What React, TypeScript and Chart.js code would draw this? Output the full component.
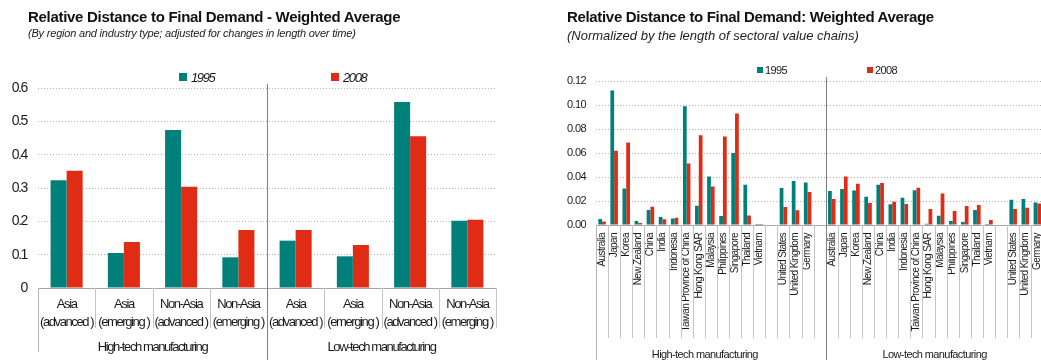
import React, { useEffect, useRef } from 'react';
import { Chart, registerables } from 'chart.js';

Chart.register(...registerables);

// ---------- shared ----------
const SERIES = ['1995', '2008'];
const COLOR_1995 = '#00807A';
const COLOR_2008 = '#E02B15';
const FONT = '"Liberation Sans", Arial, sans-serif';

// ---------- left chart data ----------
const leftTitle = 'Relative Distance to Final Demand - Weighted Average';
const leftSubtitle = '(By region and industry type; adjusted for changes in length over time)';
const leftCategories = [
  ['Asia', '(advanced )'],
  ['Asia', '(emerging )'],
  ['Non-Asia', '(advanced )'],
  ['Non-Asia', '(emerging )'],
  ['Asia', '(advanced )'],
  ['Asia', '(emerging )'],
  ['Non-Asia', '(advanced )'],
  ['Non-Asia', '(emerging )'],
];
const leftGroups = ['High-tech manufacturing', 'Low-tech manufacturing'];
const left1995 = [0.323, 0.105, 0.474, 0.092, 0.142, 0.095, 0.558, 0.202];
const left2008 = [0.352, 0.138, 0.304, 0.174, 0.174, 0.129, 0.455, 0.205];
const leftYTickLabels = ['0', '0.1', '0.2', '0.3', '0.4', '0.5', '0.6'];

// ---------- right chart data ----------
const rightTitle = 'Relative Distance to Final Demand: Weighted Average';
const rightSubtitle = '(Normalized by the length of sectoral value chains)';
const countries = [
  'Australia', 'Japan', 'Korea', 'New Zealand', 'China', 'India', 'Indonesia',
  'Taiwan Province of China', 'Hong Kong SAR', 'Malaysia', 'Philippines', 'Singapore',
  'Thailand', 'Vietnam', '', 'United States', 'United Kingdom', 'Germany', '',
];
const rightGroups = ['High-tech manufacturing', 'Low-tech manufacturing'];
const highTech1995 = [0.005, 0.112, 0.0305, 0.0033, 0.0125, 0.0067, 0.0055, 0.099, 0.016, 0.0405, 0.0075, 0.06, 0.0335, 0.0008, null, 0.0308, 0.0366, 0.0355, null];
const highTech2008 = [0.003, 0.0618, 0.0687, 0.0017, 0.0152, 0.0047, 0.006, 0.0513, 0.0748, 0.032, 0.0737, 0.093, 0.008, 0.0008, null, 0.015, 0.0122, 0.0274, null];
const lowTech1995 = [0.0283, 0.03, 0.0288, 0.0236, 0.0335, 0.0172, 0.0227, 0.029, 0.0011, 0.0078, 0.0033, 0.0025, 0.0125, 0.0008, null, 0.021, 0.0216, 0.0188, null];
const lowTech2008 = [0.0216, 0.0405, 0.0344, 0.0183, 0.0349, 0.0194, 0.0175, 0.031, 0.0133, 0.0263, 0.0116, 0.0158, 0.0166, 0.0042, null, 0.0133, 0.0144, 0.018, null];
const rightYTickLabels = ['0.00', '0.02', '0.04', '0.06', '0.08', '0.10', '0.12'];

type FrameOpts = {
  spacing: string;
  groupSize: number;
  groups: string[];
  groupFont: string;
  groupY: number;
  groupLastIndex: number;
  dividerTop: number;
  outerBottom: number;
  tickBottom: number;
};

function framePlugin(p: FrameOpts) {
  return {
    id: 'frame',
    beforeUpdate(chart: any) {
      chart.ctx.letterSpacing = p.spacing;
    },
    beforeDraw(chart: any) {
      chart.ctx.letterSpacing = p.spacing;
    },
    afterDraw(chart: any) {
      const ctx = chart.ctx as CanvasRenderingContext2D;
      const xs = chart.scales.x;
      const n = chart.data.labels.length;
      const step = xs.getPixelForValue(1) - xs.getPixelForValue(0);
      const axisY = Math.round(xs.top);
      ctx.save();
      (ctx as any).letterSpacing = p.spacing;
      ctx.lineWidth = 1;
      ctx.setLineDash([]);
      for (let k = 0; k <= n; k++) {
        const raw = k < n ? xs.getPixelForValue(k) - step / 2 : xs.getPixelForValue(n - 1) + step / 2;
        const px = Math.round(raw) + 0.5;
        ctx.beginPath();
        if (k > 0 && k < n && k % p.groupSize === 0) {
          ctx.strokeStyle = '#7f7f7f';
          ctx.moveTo(px, p.dividerTop);
          ctx.lineTo(px, chart.height);
        } else if (k === 0) {
          ctx.strokeStyle = '#b5b5b5';
          ctx.moveTo(px, axisY);
          ctx.lineTo(px, p.outerBottom);
        } else {
          ctx.strokeStyle = '#c4c4c4';
          ctx.moveTo(px, axisY);
          ctx.lineTo(px, p.tickBottom);
        }
        ctx.stroke();
      }
      ctx.fillStyle = '#1a1a1a';
      ctx.font = p.groupFont;
      ctx.textAlign = 'center';
      ctx.textBaseline = 'middle';
      p.groups.forEach((g, gi) => {
        const a = xs.getPixelForValue(gi * p.groupSize);
        const b = xs.getPixelForValue(gi * p.groupSize + p.groupLastIndex);
        ctx.fillText(g, (a + b) / 2, p.groupY);
      });
      ctx.restore();
    },
  };
}

type ChartSpec = {
  labels: any[];
  d1995: (number | null)[];
  d2008: (number | null)[];
  yMax: number;
  yStep: number;
  yLabels: string[];
  yFontSize: number;
  xFontSize: number;
  xLineHeight: number;
  rotation: number;
  xPadding: number;
  yPadding: number;
  yWidth: number;
  xHeight: number;
  padTop: number;
  padRight: number;
  catPct: number;
  frame: FrameOpts;
};

function makeConfig(s: ChartSpec): any {
  return {
    type: 'bar',
    data: {
      labels: s.labels,
      datasets: [
        { label: SERIES[0], data: s.d1995, backgroundColor: COLOR_1995, borderWidth: 0, barPercentage: 1, categoryPercentage: s.catPct },
        { label: SERIES[1], data: s.d2008, backgroundColor: COLOR_2008, borderWidth: 0, barPercentage: 1, categoryPercentage: s.catPct },
      ],
    },
    options: {
      animation: false,
      responsive: false,
      devicePixelRatio: 1,
      layout: { padding: { top: s.padTop, right: s.padRight, left: 0, bottom: 0 } },
      plugins: { legend: { display: false }, title: { display: false }, tooltip: { enabled: false } },
      scales: {
        x: {
          type: 'category',
          offset: true,
          grid: { display: true, drawOnChartArea: false, drawTicks: false },
          border: { display: true, color: '#a6a6a6', width: 1 },
          ticks: {
            autoSkip: false,
            maxRotation: s.rotation,
            minRotation: s.rotation,
            padding: s.xPadding,
            color: '#1a1a1a',
            font: { family: FONT, size: s.xFontSize, lineHeight: s.xLineHeight },
          },
          afterFit: (scale: any) => {
            scale.height = s.xHeight;
          },
        },
        y: {
          min: 0,
          max: s.yMax,
          ticks: {
            stepSize: s.yStep,
            padding: s.yPadding,
            color: '#1a1a1a',
            font: { family: FONT, size: s.yFontSize },
            callback: (_v: any, i: number) => s.yLabels[i],
          },
          grid: { color: '#b0b0b0', drawTicks: false, lineWidth: 1 },
          border: { display: false, dash: [1, 2] },
          afterFit: (scale: any) => {
            scale.width = s.yWidth;
          },
        },
      },
    },
    plugins: [framePlugin(s.frame)],
  };
}

function ChartCanvas({ spec, width, height }: { spec: ChartSpec; width: number; height: number }) {
  const ref = useRef<HTMLCanvasElement | null>(null);
  useEffect(() => {
    if (!ref.current) return;
    const chart = new Chart(ref.current, makeConfig(spec));
    return () => chart.destroy();
  }, []);
  return <canvas ref={ref} width={width} height={height} style={{ display: 'block', width, height }} />;
}

const leftSpec: ChartSpec = {
  labels: leftCategories,
  d1995: left1995,
  d2008: left2008,
  yMax: 0.6,
  yStep: 0.1,
  yLabels: leftYTickLabels,
  yFontSize: 14,
  xFontSize: 13,
  xLineHeight: 1.36,
  rotation: 0,
  xPadding: 8,
  yPadding: 11,
  yWidth: 38,
  xHeight: 72,
  padTop: 88,
  padRight: 29,
  catPct: 0.56,
  frame: {
    spacing: '-1.4px',
    groupSize: 4,
    groups: leftGroups,
    groupFont: `13px ${FONT}`,
    groupY: 347,
    groupLastIndex: 3,
    dividerTop: 84,
    outerBottom: 352,
    tickBottom: 328,
  },
};

const rightSpec: ChartSpec = {
  labels: [...countries, ...countries],
  d1995: [...highTech1995, ...lowTech1995],
  d2008: [...highTech2008, ...lowTech2008],
  yMax: 0.12,
  yStep: 0.02,
  yLabels: rightYTickLabels,
  yFontSize: 11,
  xFontSize: 10,
  xLineHeight: 1.2,
  rotation: 90,
  xPadding: 8,
  yPadding: 10,
  yWidth: 66,
  xHeight: 135,
  padTop: 81,
  padRight: 19.5,
  catPct: 0.62,
  frame: {
    spacing: '-0.6px',
    groupSize: 19,
    groups: rightGroups,
    groupFont: `11px ${FONT}`,
    groupY: 355,
    groupLastIndex: 17,
    dividerTop: 77,
    outerBottom: 360,
    tickBottom: 338,
  },
};

const abs = (s: React.CSSProperties): React.CSSProperties => ({ position: 'absolute', margin: 0, whiteSpace: 'nowrap', ...s });

export default function App() {
  return (
    <div style={{ position: 'fixed', left: 0, top: 0, width: 1041, height: 360, background: '#fff', overflow: 'hidden', fontFamily: FONT, color: '#111' }}>
      {/* left panel */}
      <div style={abs({ left: 0, top: 0, width: 525, height: 360 })}>
        <ChartCanvas spec={leftSpec} width={525} height={360} />
      </div>
      <div style={abs({ left: 28, top: 9, fontSize: 15, lineHeight: '15px', fontWeight: 'bold', letterSpacing: '-0.3px' })}>{leftTitle}</div>
      <div style={abs({ left: 28, top: 28, fontSize: 11, lineHeight: '11px', fontStyle: 'italic', letterSpacing: '-0.2px', color: '#222' })}>{leftSubtitle}</div>
      <div style={abs({ left: 179, top: 73, width: 8, height: 8, background: COLOR_1995 })} />
      <div style={abs({ left: 191, top: 71, fontSize: 13, lineHeight: '13px', fontStyle: 'italic', letterSpacing: '-1.4px', color: '#1a1a1a' })}>{SERIES[0]}</div>
      <div style={abs({ left: 331, top: 73, width: 8, height: 8, background: COLOR_2008 })} />
      <div style={abs({ left: 343, top: 71, fontSize: 13, lineHeight: '13px', fontStyle: 'italic', letterSpacing: '-1.4px', color: '#1a1a1a' })}>{SERIES[1]}</div>

      {/* right panel */}
      <div style={abs({ left: 530, top: 0, width: 511, height: 360, overflow: 'hidden' })}>
        <ChartCanvas spec={rightSpec} width={545} height={360} />
      </div>
      <div style={abs({ left: 567, top: 9, fontSize: 15, lineHeight: '15px', fontWeight: 'bold', letterSpacing: '-0.33px' })}>{rightTitle}</div>
      <div style={abs({ left: 567, top: 29, fontSize: 13, lineHeight: '13px', fontStyle: 'italic', color: '#222' })}>{rightSubtitle}</div>
      <div style={abs({ left: 757, top: 67, width: 6, height: 6, background: COLOR_1995 })} />
      <div style={abs({ left: 765, top: 65, fontSize: 11, lineHeight: '11px', letterSpacing: '-0.6px', color: '#1a1a1a' })}>{SERIES[0]}</div>
      <div style={abs({ left: 867, top: 67, width: 6, height: 6, background: COLOR_2008 })} />
      <div style={abs({ left: 875, top: 65, fontSize: 11, lineHeight: '11px', letterSpacing: '-0.6px', color: '#1a1a1a' })}>{SERIES[1]}</div>
    </div>
  );
}
